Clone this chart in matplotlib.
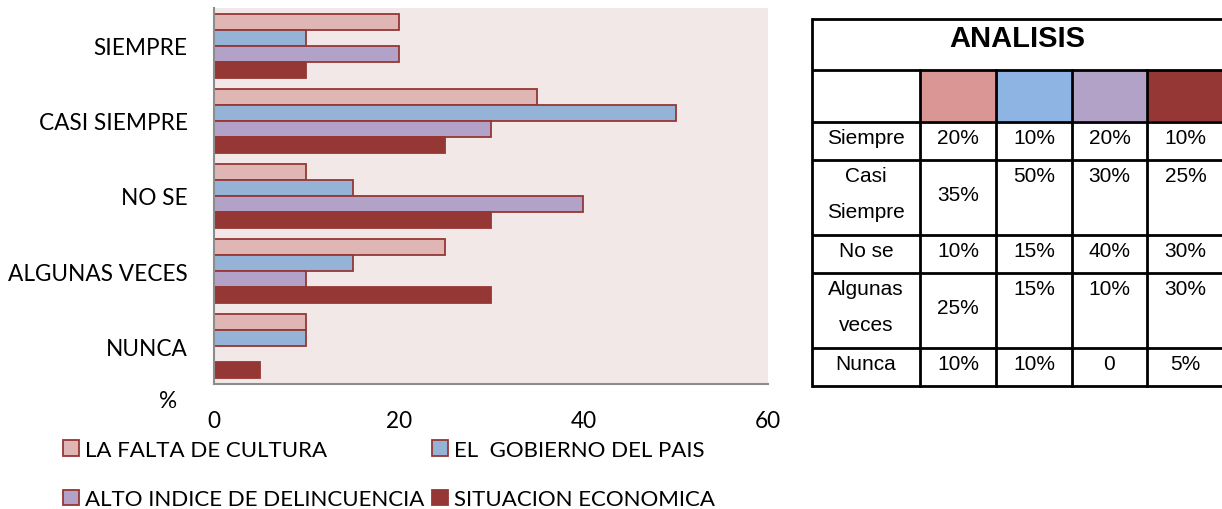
import matplotlib
matplotlib.use("Agg")
import matplotlib.pyplot as plt
import numpy as np

# ---------------- data ----------------
categories = ["SIEMPRE", "CASI SIEMPRE", "NO SE", "ALGUNAS VECES", "NUNCA"]
series_names = ["LA FALTA DE CULTURA", "EL  GOBIERNO DEL PAIS",
                "ALTO INDICE DE DELINCUENCIA", "SITUACION ECONOMICA"]
falta_cultura = [20, 35, 10, 25, 10]
gobierno = [10, 50, 15, 15, 10]
delincuencia = [20, 30, 40, 10, 0]
economica = [10, 25, 30, 30, 5]
x_ticks = [0, 20, 40, 60]

table_title = "ANALISIS"
table_rows = ["Siempre", "Casi\nSiempre", "No se", "Algunas\nveces", "Nunca"]
table_values = [
    ["20%", "10%", "20%", "10%"],
    ["35%", "50%", "30%", "25%"],
    ["10%", "15%", "40%", "30%"],
    ["25%", "15%", "10%", "30%"],
    ["10%", "10%", "0", "5%"],
]

# ---------------- styles ----------------
bar_colors = ["#E0B6B5", "#95B3D7", "#B3A2C7", "#953735"]
swatch_colors = ["#D99694", "#8EB4E3", "#B3A2C7", "#953735"]
edge = "#953735"
bg = "#F3E8E8"
W, H = 1222, 510
lab_fs = 16.3

fig = plt.figure(figsize=(W / 100, H / 100), dpi=100)
ax = fig.add_axes([214 / W, 1 - 385 / H, (768 - 214) / W, (385 - 9) / H])
ax.set_facecolor(bg)

series = [falta_cultura, gobierno, delincuencia, economica]
y = np.arange(len(categories))
h = 0.213
containers = []
for i, (vals, col) in enumerate(zip(series, bar_colors)):
    c = ax.barh(y + (i - 1.5) * h, vals, height=h, color=col,
                edgecolor=edge, linewidth=1.3, label=series_names[i], zorder=2)
    containers.append(c)

ax.set_ylim(len(categories) - 0.5, -0.5)
ax.set_xlim(0, 60)
ax.set_xticks(x_ticks)
ax.set_yticks(y)
ax.set_yticklabels(categories)
ax.tick_params(axis="both", length=0, labelsize=lab_fs)
ax.tick_params(axis="y", pad=19)
ax.tick_params(axis="x", pad=19)
for lab in ax.get_xticklabels() + ax.get_yticklabels():
    lab.set_fontfamily("Lato")
for s in ["top", "right"]:
    ax.spines[s].set_visible(False)
for s in ["left", "bottom"]:
    ax.spines[s].set_color("#8C8C8C")
    ax.spines[s].set_linewidth(1.5)
    ax.spines[s].set_zorder(5)

fig.text(168 / W, 1 - 402 / H, "%", fontsize=lab_fs, family="Lato",
         ha="center", va="center")

handles = [containers[0], containers[2], containers[1], containers[3]]
labels = [series_names[0], series_names[2], series_names[1], series_names[3]]
leg_fs = 16
fig.legend(handles, labels, ncol=2, loc="upper left",
           bbox_to_anchor=(63 / W, 1 - 441 / H), frameon=False,
           prop={"family": "Lato", "size": leg_fs},
           handlelength=0.72, handleheight=0.72, handletextpad=0.27,
           columnspacing=0.36, labelspacing=1.32, borderpad=0, borderaxespad=0)

# ---------------- table ----------------
tax = fig.add_axes([0, 0, 1, 1])
tax.set_xlim(0, W)
tax.set_ylim(H, 0)
tax.axis("off")

col_edges = [812, 920, 996, 1072, 1147, 1224]
row_edges = [20, 71, 123, 161, 236, 274, 349, 387]
lw = 2.0
for yy in row_edges:
    tax.plot([col_edges[0], col_edges[-1]], [yy, yy], color="black", lw=lw,
             solid_capstyle="butt")
tax.plot([col_edges[0], col_edges[0]], [row_edges[0], row_edges[-1]],
         color="black", lw=lw)
for xx in col_edges[1:-1]:
    tax.plot([xx, xx], [row_edges[1], row_edges[-1]], color="black", lw=lw)

tax.text(1017, 47, table_title, fontsize=21, fontweight="bold",
         family="Liberation Sans", ha="center", va="baseline")

for j, colr in enumerate(swatch_colors):
    tax.add_patch(plt.Rectangle((col_edges[j + 1] + 1, row_edges[1] + 1),
                                col_edges[j + 2] - col_edges[j + 1] - 2,
                                row_edges[2] - row_edges[1] - 2,
                                facecolor=colr, edgecolor="none"))

fs = 15
for r, (name, vals) in enumerate(zip(table_rows, table_values)):
    top = row_edges[r + 2]
    lines = name.split("\n")
    lx = (col_edges[0] + col_edges[1]) / 2
    if len(lines) == 1:
        tax.text(lx, top + 21, name, fontsize=fs, family="Liberation Sans",
                 ha="center", va="baseline")
    else:
        tax.text(lx, top + 21.5, lines[0], fontsize=fs, family="Liberation Sans",
                 ha="center", va="baseline")
        tax.text(lx, top + 57, lines[1], fontsize=fs, family="Liberation Sans",
                 ha="center", va="baseline")
    for j, v in enumerate(vals):
        cx = (col_edges[j + 1] + col_edges[j + 2]) / 2
        if len(lines) == 2 and j == 0:
            yb = top + 40.5
        else:
            yb = top + 21
        tax.text(cx, yb, v, fontsize=fs, family="Liberation Sans",
                 ha="center", va="baseline")

fig.savefig("out.png", dpi=100)
